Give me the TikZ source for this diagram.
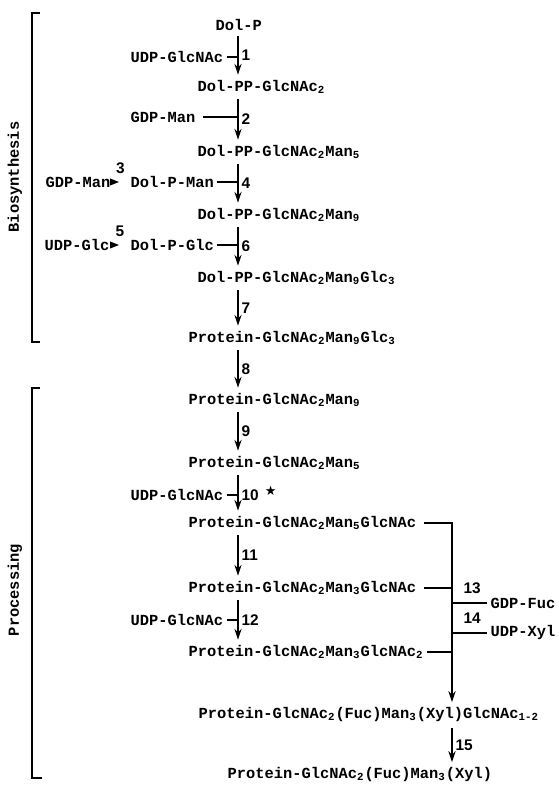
\documentclass[tikz,border=0pt]{standalone}
\usepackage{fontspec}
\setmonofont{Liberation Mono}
\newfontfamily\numfont{Liberation Sans}
\newfontfamily\starfont{DejaVu Sans}
\usetikzlibrary{arrows.meta}

\newcommand{\chemfont}{\fontsize{7.7}{9}\selectfont\ttfamily\bfseries}
\newcommand{\stepfont}{\fontsize{7.7}{9}\selectfont\numfont\bfseries}
\newcommand{\sbs}[1]{\textsubscript{#1}}

\begin{document}
\begin{tikzpicture}[x=0.5pt,y=-0.5pt,line width=0.65pt,
  cpd/.style={font=\chemfont,anchor=west,inner xsep=1.5pt,inner ysep=2.5pt},
  num/.style={font=\stepfont,right,inner sep=1.5pt},
  arr/.style={-{Stealth[length=5.5pt,width=3.6pt]}},
  tri/.style={-{Triangle[length=4.5pt,width=3.4pt]},shorten >=4pt}]
\useasboundingbox (0,0) rectangle (558,785);
\coordinate (ax) at (238,0);
\coordinate (bx) at (452,0);

% main chain
\node[cpd] (c0) at (212,25) {Dol-P};
\node[cpd] (c1) at (194,87) {Dol-PP-GlcNAc\sbs{2}};
\node[cpd] (c2) at (194,152) {Dol-PP-GlcNAc\sbs{2}Man\sbs{5}};
\node[cpd] (c3) at (194,215) {Dol-PP-GlcNAc\sbs{2}Man\sbs{9}};
\node[cpd] (c4) at (194,278) {Dol-PP-GlcNAc\sbs{2}Man\sbs{9}Glc\sbs{3}};
\node[cpd] (c5) at (185,338) {Protein-GlcNAc\sbs{2}Man\sbs{9}Glc\sbs{3}};
\node[cpd] (c6) at (185,400) {Protein-GlcNAc\sbs{2}Man\sbs{9}};
\node[cpd] (c7) at (185,463) {Protein-GlcNAc\sbs{2}Man\sbs{5}};
\node[cpd] (c8) at (185,523) {Protein-GlcNAc\sbs{2}Man\sbs{5}GlcNAc};
\node[cpd] (c9) at (185,588) {Protein-GlcNAc\sbs{2}Man\sbs{3}GlcNAc};
\node[cpd] (c10) at (185,652) {Protein-GlcNAc\sbs{2}Man\sbs{3}GlcNAc\sbs{2}};
\node[cpd] (c11) at (195,715) {Protein-GlcNAc\sbs{2}(Fuc)Man\sbs{3}(Xyl)GlcNAc\sbs{1-2}};
\node[cpd] (c12) at (224,775) {Protein-GlcNAc\sbs{2}(Fuc)Man\sbs{3}(Xyl)};

\draw[arr] (c0.south -| ax) -- node[num] {1} (c1.north -| ax);
\draw[arr] (c1.south -| ax) -- node[num] {2} (c2.north -| ax);
\draw[arr] (c2.south -| ax) -- node[num] {4} (c3.north -| ax);
\draw[arr] (c3.south -| ax) -- node[num] {6} (c4.north -| ax);
\draw[arr] (c4.south -| ax) -- node[num] {7} (c5.north -| ax);
\draw[arr] (c5.south -| ax) -- node[num] {8} (c6.north -| ax);
\draw[arr] (c6.south -| ax) -- node[num] {9} (c7.north -| ax);
\draw[arr] (c7.south -| ax) -- node[num] {10\hspace{3pt}{\starfont\fontsize{6.5}{6}\selectfont\raisebox{2.5pt}{★}}} (c8.north -| ax);
\draw[arr] (c8.south -| ax) -- node[num] {11} (c9.north -| ax);
\draw[arr] (c9.south -| ax) -- node[num] {12} (c10.north -| ax);

% donors
\node[cpd] (u1) at (127,57) {UDP-GlcNAc};
\node[cpd] (g2) at (127,117) {GDP-Man};
\node[cpd] (g4) at (42,182) {GDP-Man};
\node[cpd] (d4) at (127,182) {Dol-P-Man};
\node[cpd] (u6) at (41,245) {UDP-Glc};
\node[cpd] (d6) at (127,245) {Dol-P-Glc};
\node[cpd] (u10) at (127,495) {UDP-GlcNAc};
\node[cpd] (u12) at (127,620) {UDP-GlcNAc};
\draw (u1.east) -- (u1.east -| ax);
\draw (g2.east) ++(4,0) -- (g2.east -| ax);
\draw[tri] (g4) -- node[num,above=4pt,inner sep=0pt] {3} (d4);
\draw (d4.east) -- (d4.east -| ax);
\draw[tri] (u6) -- node[num,above=4pt,inner sep=0pt] {5} (d6);
\draw (d6.east) -- (d6.east -| ax);
\draw (u10.east) -- (u10.east -| ax);
\draw (u12.east) -- (u12.east -| ax);

% side branch
\node[cpd] (fuc) at (487,603) {GDP-Fuc};
\node[cpd] (xyl) at (487,633) {UDP-Xyl};
\node[num,anchor=west] (n13) at (460,588) {13};
\node[num,anchor=west] (n14) at (460,618) {14};
\draw[arr] (c8.east) ++(4,0) -| (c11.north -| bx);
\draw (c9.east) ++(4,0) -- (c9.east -| bx);
\draw (c10.east) -- (c10.east -| bx);
\draw (fuc.west) -- (fuc.west -| bx);
\draw (xyl.west) -- (xyl.west -| bx);
\draw[arr] (c11.south -| bx) -- node[num] {15} (c12.north -| bx);

% brackets
\draw (40,13) -- (32,13) -- (32,342) -- (40,342);
\node[font=\chemfont,rotate=90] (bio) at (15,177) {Biosynthesis};
\draw (40,388) -- (32,388) -- (32,778) -- (42,778);
\node[font=\chemfont,rotate=90] (proc) at (15,590) {Processing};
\end{tikzpicture}
\end{document}
